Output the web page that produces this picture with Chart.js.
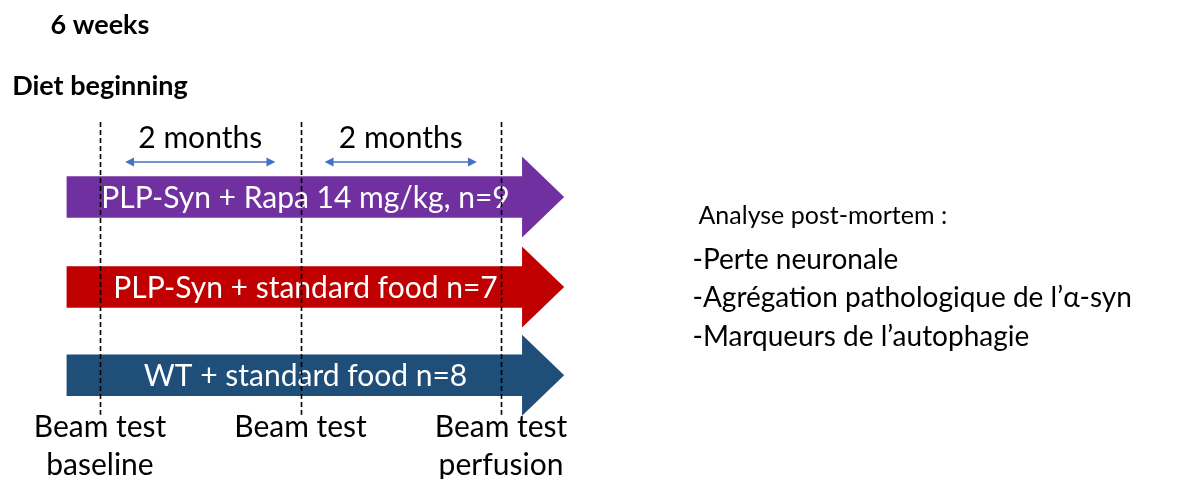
<!DOCTYPE html>
<html><head><meta charset="utf-8">
<script src="https://cdn.jsdelivr.net/npm/chart.js@4/dist/chart.umd.min.js"></script>
<style>html,body{margin:0;padding:0;background:#fff;overflow:hidden}</style>
</head><body>
<canvas id="c" width="1181" height="479"></canvas>
<script>
// ---- data ----
const groups = ['PLP-Syn + Rapa 14 mg/kg, n=9', 'PLP-Syn + standard food n=7', 'WT + standard food n=8'];
const rows = [0, 1.0, 1.98];                 // row position of each group
const shaftStart = [-0.33, -0.33, -0.33];    // months
const shaftEnd = [4.22, 4.22, 4.22];         // months (arrowhead base)
const tipEnd = [4.63, 4.63, 4.63];           // months (arrow tip)
const colors = ['#7030A0', '#C00000', '#1F4E79'];
const timepoints = [0, 2, 4];                // months
const timepointLabels = [['Beam test', 'baseline'], ['Beam test'], ['Beam test', 'perfusion']];
const intervals = [[0.25, 1.75], [2.24, 3.76]];
const intervalLabels = ['2 months', '2 months'];
const startLabels = ['6 weeks', 'Diet beginning'];
const analysisTitle = 'Analyse post-mortem :';
const analysisItems = ['-Perte neuronale', '-Agrégation pathologique de l’α-syn', '-Marqueurs de l’autophagie'];

// ---- layout in data units ----
const headHalf = 0.45;
const dashTop = -0.833, dashBottom = 2.42;
const intervalRow = -0.389, intervalTextRow = -0.656;
const tpRows = [2.556, 2.978];
const startRows = [-1.911, -1.233];
const groupTextX = 2.05;
const analysisX = 5.91, analysisTitleRow = 0.211, analysisRows = [0.70, 1.122, 1.556];

const FONT = 'Lato, "Open Sans", sans-serif';

const diagram = {
  id: 'diagram',
  afterDatasetsDraw(chart) {
    const { ctx, scales: { x, y } } = chart;
    ctx.save();
    // arrowheads
    rows.forEach((r, i) => {
      const xb = x.getPixelForValue(shaftEnd[i]);
      const xt = x.getPixelForValue(tipEnd[i]);
      const yc = y.getPixelForValue(r);
      const h = Math.abs(y.getPixelForValue(r + headHalf) - yc);
      ctx.fillStyle = colors[i];
      ctx.beginPath();
      ctx.moveTo(xb - 1, yc - h);
      ctx.lineTo(xt, yc);
      ctx.lineTo(xb - 1, yc + h);
      ctx.closePath();
      ctx.fill();
    });
    // group labels
    ctx.fillStyle = '#ffffff';
    ctx.font = '30px ' + FONT;
    ctx.textAlign = 'center';
    ctx.textBaseline = 'middle';
    groups.forEach((g, i) => ctx.fillText(g, x.getPixelForValue(groupTextX), y.getPixelForValue(rows[i]) + 1));
    // dashed lines
    ctx.strokeStyle = '#000';
    ctx.lineWidth = 1.6;
    ctx.setLineDash([5, 3]);
    timepoints.forEach(t => {
      const px = Math.round(x.getPixelForValue(t)) + 0.5;
      ctx.beginPath();
      ctx.moveTo(px, y.getPixelForValue(dashTop));
      ctx.lineTo(px, y.getPixelForValue(dashBottom));
      ctx.stroke();
    });
    ctx.setLineDash([]);
    // interval double arrows
    ctx.strokeStyle = '#4472C4';
    ctx.fillStyle = '#4472C4';
    ctx.lineWidth = 1.5;
    intervals.forEach(iv => {
      const x1 = x.getPixelForValue(iv[0]), x2 = x.getPixelForValue(iv[1]);
      const yy = y.getPixelForValue(intervalRow);
      ctx.beginPath(); ctx.moveTo(x1 + 6, yy); ctx.lineTo(x2 - 6, yy); ctx.stroke();
      ctx.beginPath(); ctx.moveTo(x1, yy); ctx.lineTo(x1 + 9, yy - 4.5); ctx.lineTo(x1 + 9, yy + 4.5); ctx.closePath(); ctx.fill();
      ctx.beginPath(); ctx.moveTo(x2, yy); ctx.lineTo(x2 - 9, yy - 4.5); ctx.lineTo(x2 - 9, yy + 4.5); ctx.closePath(); ctx.fill();
    });
    ctx.fillStyle = '#000';
    ctx.font = '30px ' + FONT;
    intervals.forEach((iv, k) => {
      ctx.fillText(intervalLabels[k], x.getPixelForValue((iv[0] + iv[1]) / 2), y.getPixelForValue(intervalTextRow));
    });
    // timepoint labels
    timepointLabels.forEach((lines, k) => {
      lines.forEach((l, j) => ctx.fillText(l, x.getPixelForValue(timepoints[k]), y.getPixelForValue(tpRows[j])));
    });
    // start labels
    ctx.font = 'bold 27px ' + FONT;
    startLabels.forEach((l, j) => ctx.fillText(l, x.getPixelForValue(timepoints[0]), y.getPixelForValue(startRows[j])));
    // analysis text
    ctx.textAlign = 'left';
    ctx.font = '25px ' + FONT;
    ctx.fillText(analysisTitle, x.getPixelForValue(analysisX) + 6, y.getPixelForValue(analysisTitleRow));
    ctx.font = '28px ' + FONT;
    analysisItems.forEach((l, j) => ctx.fillText(l, x.getPixelForValue(analysisX), y.getPixelForValue(analysisRows[j])));
    ctx.restore();
  }
};

new Chart(document.getElementById('c'), {
  type: 'bar',
  data: {
    datasets: [{
      data: rows.map((r, i) => ({ y: r, x: [shaftStart[i], shaftEnd[i]] })),
      backgroundColor: colors,
      borderWidth: 0,
      borderSkipped: false,
      barThickness: 41
    }]
  },
  options: {
    indexAxis: 'y',
    responsive: false,
    animation: false,
    devicePixelRatio: 1,
    layout: { padding: 0 },
    plugins: { legend: { display: false }, tooltip: { enabled: false } },
    scales: {
      x: { type: 'linear', min: -0.9975, max: 10.783, display: false, offset: false, grace: 0 },
      y: { type: 'linear', min: -2.189, max: 3.133, reverse: true, display: false, offset: false, grace: 0 }
    }
  },
  plugins: [diagram]
});
</script>
</body></html>
